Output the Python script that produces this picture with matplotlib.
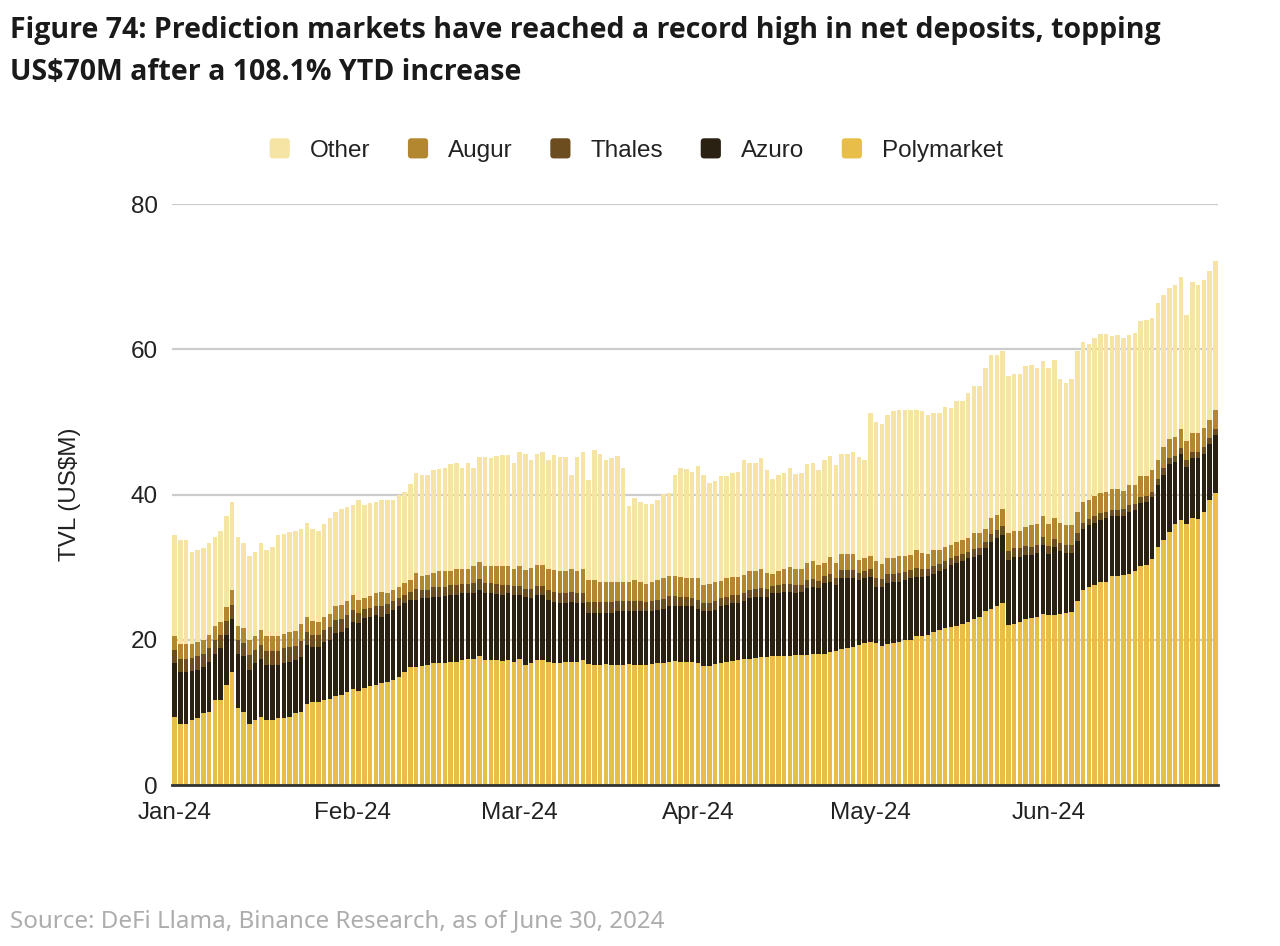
import numpy as np
import pandas as pd
import matplotlib
matplotlib.use("Agg")
import matplotlib.pyplot as plt
from matplotlib.patches import FancyBboxPatch
from matplotlib.legend_handler import HandlerPatch

plt.rcParams['font.family'] = ['Liberation Sans', 'DejaVu Sans']

# daily TVL (US$M), 1 Jan 2024 - 30 Jun 2024
days = pd.date_range("2024-01-01", "2024-06-30", freq="D")

polymarket = [
    # Jan
    9.4, 8.4, 8.4, 8.9, 9.2, 9.9, 10.1, 11.7, 11.7, 13.8, 15.6, 10.6, 10.1, 8.4, 8.9, 9.4,
    8.9, 8.9, 9.2, 9.2, 9.4, 9.9, 10.1, 11.2, 11.4, 11.4, 11.7, 11.9, 12.2, 12.4, 12.8,
    # Feb
    13.2, 12.9, 13.3, 13.6, 13.8, 14.0, 14.2, 14.5, 14.9, 15.5, 16.3, 16.3, 16.4, 16.5, 16.8,
    16.8, 16.8, 17.0, 17.0, 17.2, 17.3, 17.3, 17.7, 17.2, 17.2, 17.2, 17.1, 17.2, 17.0,
    # Mar
    17.3, 16.5, 16.8, 17.2, 17.2, 17.0, 16.8, 16.8, 17.0, 17.0, 17.0, 17.2, 16.6, 16.5, 16.5,
    16.6, 16.5, 16.5, 16.5, 16.6, 16.5, 16.5, 16.5, 16.6, 16.8, 16.8, 17.0, 17.1, 17.0, 17.0, 16.9,
    # Apr
    16.8, 16.4, 16.4, 16.6, 16.8, 17.0, 17.1, 17.2, 17.4, 17.4, 17.5, 17.6, 17.6, 17.7, 17.8,
    17.8, 17.8, 17.9, 17.9, 17.9, 18.0, 18.0, 18.1, 18.3, 18.4, 18.7, 18.8, 19.0, 19.3, 19.5,
    # May
    19.7, 19.5, 19.1, 19.4, 19.6, 19.7, 19.9, 20.0, 20.5, 20.5, 20.7, 21.1, 21.3, 21.6, 21.7,
    21.9, 22.2, 22.5, 22.8, 23.1, 23.9, 24.3, 24.6, 25.1, 22.0, 22.2, 22.5, 22.8, 23.0, 23.1, 23.5,
    # Jun
    23.4, 23.4, 23.6, 23.7, 23.8, 25.4, 26.9, 27.3, 27.5, 27.9, 28.0, 28.8, 28.8, 28.9, 29.1,
    29.4, 30.2, 30.3, 31.1, 32.8, 33.7, 34.9, 36.0, 36.5, 36.0, 36.7, 36.6, 37.6, 39.3, 40.2,
]

azuro = [
    7.4, 7.2, 7.2, 6.8, 6.7, 6.4, 6.9, 6.4, 7.1, 6.9, 7.2, 7.4, 7.7, 7.5, 7.9, 8.0,
    7.6, 7.6, 7.3, 7.6, 7.6, 7.3, 7.5, 8.1, 7.6, 7.6, 8.0, 8.1, 8.7, 8.7, 8.8,
    9.3, 9.4, 9.7, 9.6, 9.6, 9.2, 9.4, 9.6, 9.7, 9.6, 9.2, 9.2, 9.3, 9.2, 9.1,
    9.1, 9.2, 9.2, 9.2, 9.2, 9.1, 9.1, 9.2, 9.2, 9.2, 9.1, 9.1, 9.2, 9.2,
    8.9, 9.4, 8.9, 9.0, 9.0, 8.5, 8.4, 8.3, 8.1, 8.2, 8.0, 7.9, 7.1, 7.2, 7.2,
    7.1, 7.2, 7.4, 7.4, 7.3, 7.5, 7.4, 7.4, 7.3, 7.3, 7.4, 7.6, 7.5, 7.6, 7.6, 7.7,
    7.5, 7.6, 7.5, 7.5, 7.8, 7.8, 7.9, 7.9, 8.0, 8.3, 8.4, 8.3, 8.3, 8.7, 8.6,
    8.8, 8.8, 8.5, 8.7, 9.2, 9.3, 9.1, 9.7, 9.7, 9.1, 9.8, 9.7, 9.5, 8.9, 9.0,
    9.0, 7.8, 8.1, 8.4, 8.4, 8.3, 8.3, 8.5, 8.2, 8.2, 8.1, 8.0, 8.1, 8.2, 8.6,
    8.6, 8.6, 8.7, 8.6, 8.6, 8.7, 9.2, 9.4, 9.3, 9.0, 9.2, 8.9, 8.9, 8.7, 8.8, 9.5,
    8.4, 9.4, 8.6, 8.2, 8.1, 8.2, 8.4, 8.5, 8.6, 8.6, 8.7, 8.2, 8.2, 8.1, 8.5,
    8.5, 8.6, 8.7, 8.6, 8.5, 9.0, 9.3, 8.5, 9.1, 7.8, 8.3, 8.4, 8.0, 7.7, 8.0,
]

thales = [
    1.8, 1.8, 1.8, 1.8, 1.8, 1.8, 1.8, 1.9, 1.8, 1.9, 2.0, 1.9, 1.8, 2.0, 1.8, 1.9,
    2.0, 2.0, 2.0, 2.0, 2.0, 2.0, 2.2, 1.8, 1.7, 1.7, 1.6, 1.7, 1.8, 1.8, 1.8,
    1.6, 1.4, 1.2, 1.2, 1.3, 1.5, 1.3, 1.2, 1.1, 1.1, 1.1, 1.5, 1.2, 1.2, 1.3,
    1.4, 1.3, 1.3, 1.4, 1.3, 1.3, 1.4, 1.5, 1.4, 1.4, 1.4, 1.4, 1.2, 1.2,
    1.2, 1.1, 1.3, 1.2, 1.2, 1.3, 1.4, 1.4, 1.4, 1.4, 1.4, 1.4, 1.5, 1.5, 1.5,
    1.5, 1.5, 1.4, 1.4, 1.4, 1.4, 1.4, 1.3, 1.4, 1.4, 1.4, 1.4, 1.4, 1.3, 1.3, 1.2,
    1.2, 1.1, 1.2, 1.2, 1.1, 1.1, 1.1, 1.1, 1.1, 1.1, 1.1, 1.2, 1.1, 1.0, 1.1,
    1.1, 1.1, 1.1, 1.0, 1.1, 1.1, 1.0, 1.0, 1.1, 1.0, 1.1, 1.1, 1.1, 1.0, 1.0,
    1.0, 1.2, 1.1, 1.2, 1.1, 1.2, 1.1, 1.1, 1.2, 1.1, 1.0, 1.1, 1.0, 1.0, 0.9,
    1.0, 1.0, 0.9, 1.1, 1.0, 0.9, 1.1, 1.1, 1.2, 1.2, 1.2, 1.2, 1.2, 1.1, 1.1, 1.1,
    1.1, 1.1, 1.1, 1.1, 1.1, 1.1, 0.8, 0.8, 0.9, 0.9, 0.9, 0.9, 0.9, 1.0, 1.0,
    0.8, 0.8, 0.8, 0.7, 0.8, 1.0, 0.8, 0.8, 0.8, 1.0, 0.9, 0.9, 0.9, 0.8, 0.8,
]

augur = [
    1.9, 2.0, 2.0, 1.9, 2.0, 1.9, 1.9, 1.9, 1.9, 1.9, 2.0, 2.0, 2.0, 2.1, 1.9, 2.1,
    2.0, 2.0, 2.0, 2.0, 2.1, 2.0, 2.4, 2.0, 1.9, 1.8, 1.8, 1.9, 1.9, 1.9, 2.0,
    2.1, 1.8, 1.5, 1.6, 1.7, 1.9, 1.6, 1.6, 1.6, 1.6, 1.6, 2.2, 1.9, 2.0, 2.0,
    2.1, 2.1, 2.0, 2.2, 2.1, 2.0, 2.3, 2.3, 2.4, 2.4, 2.5, 2.5, 2.6, 2.4,
    2.7, 2.6, 2.9, 2.9, 2.9, 2.9, 3.0, 2.9, 2.9, 3.1, 3.0, 3.2, 3.0, 3.0, 2.8,
    2.8, 2.8, 2.7, 2.7, 2.7, 2.8, 2.7, 2.5, 2.7, 2.7, 2.9, 2.8, 2.8, 2.7, 2.6, 2.7,
    3.0, 2.4, 2.6, 2.7, 2.4, 2.6, 2.5, 2.5, 2.4, 2.6, 2.4, 2.7, 2.2, 1.7, 2.0,
    2.1, 2.3, 2.2, 2.1, 2.3, 2.4, 2.2, 1.8, 2.3, 2.1, 2.2, 2.2, 2.2, 1.8, 1.7,
    1.8, 2.3, 2.1, 2.2, 2.2, 2.3, 2.2, 2.1, 2.4, 2.1, 2.0, 2.1, 2.0, 2.0, 1.8,
    2.0, 1.9, 1.9, 2.2, 2.0, 1.7, 2.1, 2.1, 2.4, 2.5, 2.4, 2.4, 2.6, 3.0, 3.0, 2.9,
    3.1, 2.8, 2.8, 2.8, 2.8, 2.9, 2.9, 2.6, 2.8, 2.8, 2.8, 2.8, 2.8, 2.5, 2.7,
    2.6, 2.9, 2.7, 3.0, 2.6, 2.8, 2.6, 2.6, 2.6, 2.5, 2.5, 2.5, 2.7, 2.5, 2.6,
]

other = [
    13.9, 14.4, 14.3, 12.7, 12.7, 12.7, 12.6, 12.2, 12.5, 12.5, 12.2, 12.3, 11.7, 11.6, 11.6, 11.9,
    11.9, 12.3, 13.9, 13.8, 13.7, 13.8, 13.1, 13.0, 12.6, 12.5, 12.8, 13.1, 13.0, 13.2, 12.9,
    12.4, 13.7, 12.9, 12.8, 12.6, 12.6, 12.7, 12.3, 12.6, 12.6, 13.3, 13.7, 13.9, 13.8, 14.2,
    14.1, 14.2, 14.7, 14.6, 13.9, 14.6, 13.5, 14.5, 15.0, 14.8, 15.1, 15.3, 15.2, 14.6,
    15.8, 16.0, 14.9, 15.3, 15.6, 15.1, 15.8, 15.8, 15.8, 13.0, 15.8, 16.2, 13.8, 17.9, 17.6,
    16.8, 17.0, 17.3, 15.6, 10.4, 11.3, 10.9, 11.0, 10.7, 11.0, 11.6, 11.4, 13.9, 15.0, 15.0, 14.6,
    15.4, 15.2, 13.9, 13.8, 14.4, 14.0, 14.3, 14.4, 15.9, 15.0, 15.0, 15.2, 14.2, 13.0, 13.2,
    13.2, 13.6, 13.1, 13.3, 13.7, 13.5, 13.1, 14.1, 13.9, 13.5, 13.8, 13.8, 14.0, 14.2, 13.6,
    19.7, 19.2, 19.3, 19.7, 20.2, 20.1, 20.1, 19.9, 19.3, 19.6, 19.1, 18.9, 18.8, 19.3, 18.9,
    19.4, 19.2, 20.0, 20.2, 20.2, 22.2, 22.5, 22.0, 21.7, 21.6, 21.6, 21.6, 22.2, 22.0, 21.4, 21.4,
    21.4, 21.8, 19.8, 19.5, 20.1, 22.1, 22.0, 21.5, 21.7, 21.9, 21.7, 21.1, 21.3, 21.0, 20.7,
    21.0, 21.4, 21.5, 20.9, 21.6, 21.0, 20.9, 20.9, 21.0, 17.4, 20.8, 20.4, 20.4, 20.5, 20.5,
]

series = ["Polymarket", "Azuro", "Thales", "Augur", "Other"]
colors = {
    "Polymarket": "#E8BD48",
    "Azuro": "#2A2112",
    "Thales": "#6B4D1F",
    "Augur": "#B38630",
    "Other": "#F6E4A4",
}

df = pd.DataFrame({
    "Polymarket": polymarket,
    "Azuro": azuro,
    "Thales": thales,
    "Augur": augur,
    "Other": other,
}, index=days)


class RoundSquare(HandlerPatch):
    # small rounded square for the legend keys
    def create_artists(self, legend, orig_handle, xdescent, ydescent,
                       width, height, fontsize, trans):
        s = min(width, height)
        p = FancyBboxPatch((-xdescent + (width - s) / 2, -ydescent + (height - s) / 2), s, s,
                           boxstyle="round,pad=0,rounding_size=2.5",
                           facecolor=orig_handle.get_facecolor(), edgecolor="none",
                           transform=trans)
        return [p]


fig = plt.figure(figsize=(12.8, 9.46), dpi=100)
ax = fig.add_axes([172 / 1280, 1 - 785 / 946, (1218 - 172) / 1280, (785 - 204) / 946])

x = np.arange(len(df))
bottom = np.zeros(len(df))
bars = {}
for name in series:
    bars[name] = ax.bar(x, df[name].values, width=0.78, bottom=bottom,
                        color=colors[name], linewidth=0, zorder=2, label=name)
    bottom += df[name].values

ax.set_xlim(-0.45, len(df) - 0.55)
ax.set_ylim(0, 80)
ax.set_yticks([0, 20, 40, 60, 80])
ax.yaxis.grid(True, color="#CCCCCC", linewidth=1.6, zorder=0)
ax.set_axisbelow(True)

month_pos = [i for i, d in enumerate(df.index) if d.day == 1]
ax.set_xticks(month_pos)
ax.set_xticklabels([df.index[i].strftime("%b-%y") for i in month_pos])

for side in ["top", "right", "left"]:
    ax.spines[side].set_visible(False)
ax.spines["bottom"].set_color("#333333")
ax.spines["bottom"].set_linewidth(2)
ax.spines["bottom"].set_zorder(3)
ax.tick_params(axis="both", length=0, labelsize=17.5, colors="#222222")
ax.tick_params(axis="y", pad=10)
ax.tick_params(axis="x", pad=12)
ax.set_ylabel("TVL (US$M)", fontsize=17.5, color="#222222", labelpad=36)

# legend, order as in the original
order = ["Other", "Augur", "Thales", "Azuro", "Polymarket"]
fig.legend([bars[n].patches[0] for n in order], order, loc="center", ncol=5,
           bbox_to_anchor=(636 / 1280, 1 - 150 / 946), frameon=False,
           fontsize=17.5, handlelength=0.9, handleheight=0.9,
           handletextpad=0.8, columnspacing=1.5, labelcolor="#222222",
           handler_map={matplotlib.patches.Rectangle: RoundSquare()})

title_font = ["Open Sans", "DejaVu Sans"]
fig.text(10 / 1280, 1 - 38 / 946,
         "Figure 74: Prediction markets have reached a record high in net deposits, topping",
         ha="left", va="baseline", fontsize=20.5, fontweight="bold", color="#1A1A1A",
         family=title_font)
fig.text(10 / 1280, 1 - 80 / 946, "US$70M after a 108.1% YTD increase",
         ha="left", va="baseline", fontsize=20.5, fontweight="bold", color="#1A1A1A",
         family=title_font)

fig.text(10 / 1280, 1 - 921 / 946, "Source: DeFi Llama, Binance Research, as of June 30, 2024",
         ha="left", va="center", fontsize=17.4, color="#ADADAD",
         family=["Noto Sans", "DejaVu Sans"])

fig.savefig("out.png", dpi=100)
